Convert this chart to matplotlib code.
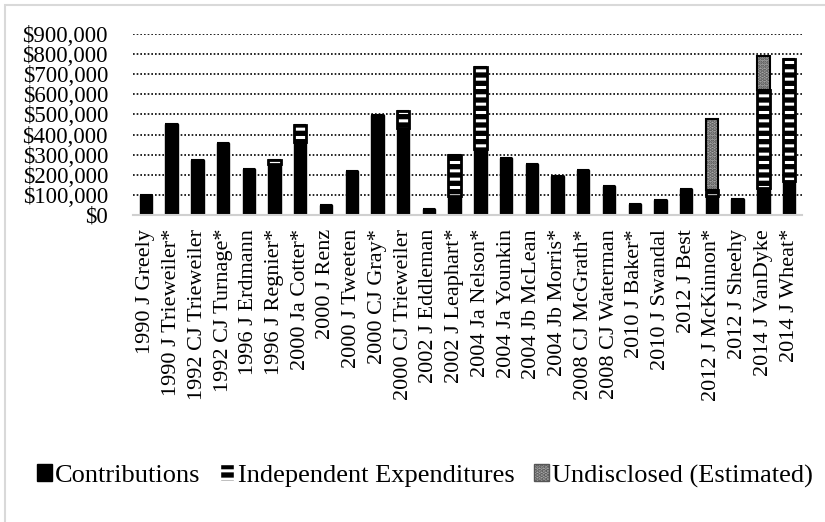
import numpy as np
import matplotlib.pyplot as plt
from matplotlib.patches import Patch, Rectangle
from matplotlib.ticker import FuncFormatter

plt.rcParams['font.family'] = ['Liberation Serif', 'DejaVu Serif']
plt.rcParams['hatch.linewidth'] = 2.2

names = ['1990 J Greely', '1990 J Trieweiler*', '1992 CJ Trieweiler', '1992 CJ Turnage*',
         '1996 J Erdmann', '1996 J Regnier*', '2000 Ja Cotter*', '2000 J Renz',
         '2000 J Tweeten', '2000 CJ Gray*', '2000 CJ Trieweiler', '2002 J Eddleman',
         '2002 J Leaphart*', '2004 Ja Nelson*', '2004 Ja Younkin', '2004 Jb McLean',
         '2004 Jb Morris*', '2008 CJ McGrath*', '2008 CJ Waterman', '2010 J Baker*',
         '2010 J Swandal', '2012 J Best', '2012 J McKinnon*', '2012 J Sheehy',
         '2014 J VanDyke', '2014 J Wheat*']

contributions = [97000, 452000, 274000, 360000, 231000, 255000, 365000, 51000,
                 218000, 498000, 435000, 30000, 96000, 329000, 284000, 255000,
                 192000, 223000, 144000, 55000, 77000, 131000, 92000, 79000,
                 132000, 167000]
independent = [0, 0, 0, 0, 0, 17000, 83000, 0,
               0, 0, 82000, 0, 200000, 405000, 0, 0,
               0, 0, 0, 0, 0, 0, 32000, 0,
               489000, 610000]
undisclosed = [0, 0, 0, 0, 0, 0, 0, 0,
               0, 0, 0, 0, 0, 0, 0, 0,
               0, 0, 0, 0, 0, 0, 355000, 0,
               170000, 0]

contributions = np.array(contributions)
independent = np.array(independent)
undisclosed = np.array(undisclosed)
x = np.arange(len(names))
w = 0.48

fig = plt.figure(figsize=(8.25, 5.22), dpi=100)
ax = fig.add_axes([133/825, 1 - 215/522, (802 - 133)/825, (215 - 34)/522])

# contributions
ax.bar(x, contributions, w, color='black', edgecolor='black', linewidth=1, zorder=3)
# independent expenditures: black with white dashes
ax.bar(x, independent, w, bottom=contributions, color='black', edgecolor='white',
       hatch='--', linewidth=0, zorder=3)
ax.bar(x, independent, w, bottom=contributions, fill=False, edgecolor='black',
       linewidth=2, zorder=4)
# undisclosed
ax.bar(x, undisclosed, w, bottom=contributions + independent, color='#a6a6a6',
       edgecolor='#555555', hatch='....', linewidth=0, zorder=3)
ax.bar(x, undisclosed, w, bottom=contributions + independent, fill=False,
       edgecolor='black', linewidth=1.5, zorder=4)

ax.set_xlim(-0.5, len(names) - 0.5)
ax.set_ylim(0, 900000)
ax.set_yticks(np.arange(0, 900001, 100000))
ax.yaxis.set_major_formatter(FuncFormatter(lambda v, p: '${:,.0f}'.format(v)))
ax.grid(axis='y', color='black', linestyle=(0, (1, 1.2)), linewidth=1.2, zorder=0)
ax.set_axisbelow(True)
ax.set_xticks(x)
ax.set_xticklabels(names, rotation=90, fontsize=16)
ax.tick_params(axis='y', length=0, pad=18, labelsize=16.5)
ax.tick_params(axis='x', length=0, pad=10)
for s in ['top', 'right', 'left']:
    ax.spines[s].set_visible(False)
ax.spines['bottom'].set_color('#d0d0d0')
ax.spines['bottom'].set_linewidth(1.5)
ax.spines['bottom'].set_zorder(5)

handles = [Patch(facecolor='black', edgecolor='black', label='Contributions'),
           Patch(facecolor='black', edgecolor='white', hatch='--', label='Independent Expenditures'),
           Patch(facecolor='#a6a6a6', edgecolor='#555555', hatch='....', label='Undisclosed (Estimated)')]
fig.legend(handles=handles, loc='center', bbox_to_anchor=(0.515, 1 - 476/522), ncol=3,
           frameon=False, fontsize=19, handlelength=0.55, handleheight=0.6,
           handletextpad=0.12, columnspacing=0.75, borderaxespad=0)

fig.patches.append(Rectangle((5/825, -0.1), 1.2, 1 - 5/522 + 0.1, transform=fig.transFigure,
                             fill=False, edgecolor='#d9d9d9', linewidth=1.5))

fig.savefig('out.png', dpi=100)
